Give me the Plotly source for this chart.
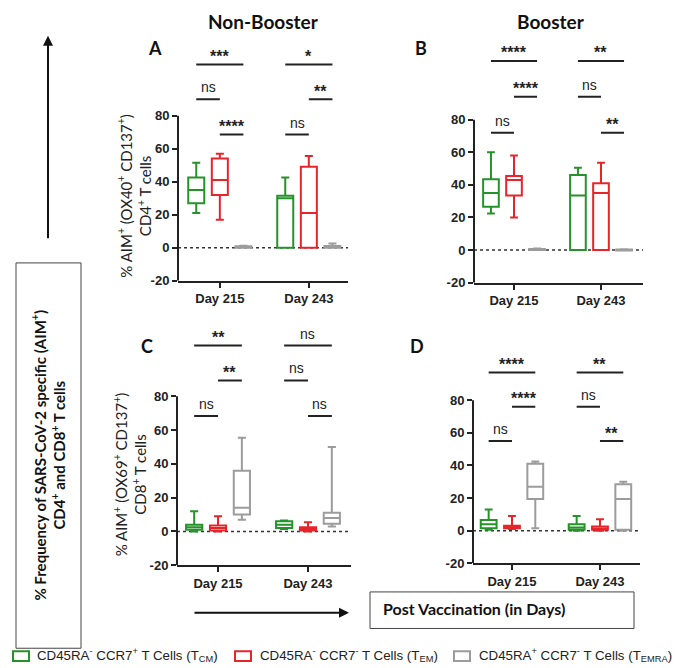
import plotly.graph_objects as go

W, H = 685, 668

DAYS = ["Day 215", "Day 243"]
SERIES = [
    "CD45RA<sup>-</sup> CCR7<sup>+</sup> T Cells (T<sub>CM</sub>)",
    "CD45RA<sup>-</sup> CCR7<sup>-</sup> T Cells (T<sub>EM</sub>)",
    "CD45RA<sup>+</sup> CCR7<sup>-</sup> T Cells (T<sub>EMRA</sub>)",
]
COLORS = ["#25922a", "#e8242b", "#9c9c9c"]

# Box statistics: one row per series (TCM, TEM, TEMRA), columns = [Day 215, Day 243]
# Panel A (Non-Booster, CD4)
A_low = [[21, 0], [17, 0], [0, 0]]
A_q1 = [[27, 0], [32, 0], [0, 0]]
A_med = [[35, 30], [41, 21], [0.4, 0.5]]
A_q3 = [[42.5, 31.5], [54, 49], [0.9, 1.0]]
A_high = [[51.5, 42.5], [57, 55.5], [1.2, 2.5]]
# Panel B (Booster, CD4)
B_low = [[22.5, 0], [20, 0], [0, -0.3]]
B_q1 = [[26.5, 0], [33.5, 0], [0, -0.3]]
B_med = [[35, 33.5], [43, 35], [0.3, 0]]
B_q3 = [[43.5, 46], [45.5, 41], [0.7, 0.4]]
B_high = [[60, 50.5], [58, 53.5], [0.9, 0.5]]
# Panel C (Non-Booster, CD8)
C_low = [[0, 1.5], [0, 0], [7, 3]]
C_q1 = [[1, 2], [0.5, 0.5], [10, 4.5]]
C_med = [[2.5, 4], [2, 1.5], [14, 8]]
C_q3 = [[4, 6], [3.5, 2.5], [36, 11]]
C_high = [[12, 6.5], [9, 5.5], [55.5, 50]]
# Panel D (Booster, CD8)
D_low = [[0.5, 0], [1, 0], [1.5, 0]]
D_q1 = [[1.5, 0.5], [1.5, 0.5], [19.5, 0.5]]
D_med = [[4, 2], [2, 1], [27, 19.5]]
D_q3 = [[6.5, 4], [3, 2.5], [41, 28.5]]
D_high = [[13, 9], [9, 7], [42.5, 30]]

# Significance brackets: (day index, from series, to series, y level, label)
SIG_A = [(0, 1, 2, 68.6, "****"), (1, 0, 1, 68.6, "ns"), (0, 0, 1, 90, "ns"),
         (1, 1, 2, 90, "**"), (0, 0, 2, 111, "***"), (1, 0, 2, 111, "*")]
SIG_B = [(0, 0, 1, 72, "ns"), (1, 1, 2, 72, "**"), (0, 1, 2, 94, "****"),
         (1, 0, 1, 94, "ns"), (0, 0, 2, 116, "****"), (1, 0, 2, 116, "**")]
SIG_C = [(0, 0, 1, 68.3, "ns"), (1, 1, 2, 68.3, "ns"), (0, 1, 2, 89.4, "**"),
         (1, 0, 1, 89.4, "ns"), (0, 0, 2, 110, "**"), (1, 0, 2, 110, "ns")]
SIG_D = [(0, 0, 1, 55, "ns"), (1, 1, 2, 55, "**"), (0, 1, 2, 76, "****"),
         (1, 0, 1, 76, "ns"), (0, 0, 2, 97, "****"), (1, 0, 2, 97, "**")]

Y_TICKS = [-20, 0, 20, 40, 60, 80]
Y_TICKTEXT = ["-20", "0", "20", "40", "60", "80"]

PANELS = [
    dict(stats=(A_low, A_q1, A_med, A_q3, A_high), sig=SIG_A,
         px=(170, 340), py=(276, 42.2), xr=[-0.47, 1.44]),
    dict(stats=(B_low, B_q1, B_med, B_q3, B_high), sig=SIG_B,
         px=(466, 635), py=(278, 47), xr=[-0.46, 1.483]),
    dict(stats=(C_low, C_q1, C_med, C_q3, C_high), sig=SIG_C,
         px=(169, 343), py=(564, 324.6), xr=[-0.456, 1.478]),
    dict(stats=(D_low, D_q1, D_med, D_q3, D_high), sig=SIG_D,
         px=(465, 632), py=(562, 331), xr=[-0.443, 1.455]),
]

SLOT = 0.265       # spacing between the three boxes of a day group
BOX_W = 0.18       # box width in x units
OFFSETS = [-SLOT, 0, SLOT]
DAY_POS = list(range(len(DAYS)))

fig = go.Figure()
shapes = []
annotations = []
layout_axes = {}
TICKFONT = dict(family="Arial, Liberation Sans", size=13, color="#222", weight="bold")

for pi, p in enumerate(PANELS):
    n = "" if pi == 0 else str(pi + 1)
    xa, ya = "x" + n, "y" + n
    low, q1, med, q3, high = p["stats"]
    for si in range(3):
        fig.add_trace(go.Box(
            x=[d + OFFSETS[si] for d in DAY_POS], q1=q1[si], median=med[si], q3=q3[si],
            lowerfence=low[si], upperfence=high[si], width=BOX_W,
            name=SERIES[si], showlegend=False,
            boxpoints=False, whiskerwidth=0.5,
            line=dict(color=COLORS[si], width=2),
            fillcolor="rgba(0,0,0,0)", hoverinfo="skip",
            xaxis=xa, yaxis=ya,
        ))
    x0, x1 = p["px"]
    yb, yt = p["py"]
    layout_axes["xaxis" + n] = dict(
        domain=[x0 / W, x1 / W], anchor=ya, range=p["xr"],
        tickvals=DAY_POS, ticktext=DAYS,
        showline=True, linecolor="#222", linewidth=2, ticks="outside",
        ticklen=5, tickwidth=2, tickcolor="#222", showgrid=False,
        zeroline=False, fixedrange=True, tickfont=TICKFONT,
    )
    layout_axes["yaxis" + n] = dict(
        domain=[1 - yb / H, 1 - yt / H], anchor=xa, range=[-20, 120],
        tickvals=Y_TICKS, ticktext=Y_TICKTEXT, showline=False,
        ticks="outside", ticklen=5, tickwidth=2, tickcolor="#222",
        showgrid=False, zeroline=False, fixedrange=True, tickfont=TICKFONT,
    )
    shapes.append(dict(type="line", xref=xa + " domain", yref=ya, x0=0, x1=0,
                       y0=-20, y1=80, line=dict(color="#222", width=2)))
    shapes.append(dict(type="line", xref=xa + " domain", yref=ya, x0=0, x1=1,
                       y0=0, y1=0, layer="below",
                       line=dict(color="#333", width=1.5, dash="dot")))
    for (d, a, b, yv, lab) in p["sig"]:
        xs, xe = d + OFFSETS[a], d + OFFSETS[b]
        shapes.append(dict(type="line", xref=xa, yref=ya, x0=xs, x1=xe,
                           y0=yv, y1=yv, line=dict(color="#222", width=2)))
        is_star = "*" in lab
        annotations.append(dict(
            xref=xa, yref=ya, x=(xs + xe) / 2, y=yv, text=lab, showarrow=False,
            xanchor="center", yanchor="middle", yshift=8 if is_star else 12,
            font=dict(family="Arial, Liberation Sans", size=16 if is_star else 14,
                      color="#222", weight="bold" if is_star else "normal"),
        ))


def P(xp, yp):
    return xp / W, 1 - yp / H


for txt, xp in [("Non-Booster", 255), ("Booster", 543)]:
    x, y = P(xp, 14)
    annotations.append(dict(xref="paper", yref="paper", x=x, y=y, text="<b>%s</b>" % txt,
                            showarrow=False, xanchor="center", yanchor="middle",
                            font=dict(family="Lato, Open Sans", size=19, color="#111")))
for txt, xp, yp in [("A", 147, 40), ("B", 413, 40), ("C", 139, 342), ("D", 409, 342)]:
    x, y = P(xp, yp)
    annotations.append(dict(xref="paper", yref="paper", x=x, y=y, text="<b>%s</b>" % txt,
                            showarrow=False, xanchor="center", yanchor="middle",
                            font=dict(family="Lato, Open Sans", size=18, color="#111")))
for txt, xp, yp in [
    ("% AIM<sup>+</sup> (OX40<sup>+</sup> CD137<sup>+</sup>)<br>CD4<sup>+</sup> T cells", 127, 190),
    ("% AIM<sup>+</sup> (OX69<sup>+</sup> CD137<sup>+</sup>)<br>CD8<sup>+</sup> T cells", 122, 472),
]:
    x, y = P(xp, yp)
    annotations.append(dict(xref="paper", yref="paper", x=x, y=y, text=txt, textangle=-90,
                            showarrow=False, xanchor="center", yanchor="middle",
                            font=dict(family="Lato, Open Sans", size=15, color="#222")))
x, y = P(41, 453)
annotations.append(dict(xref="paper", yref="paper", x=x, y=y, textangle=-90,
                        text="<b>% Frequency of SARS-CoV-2 specific (AIM<sup>+</sup>)<br>CD4<sup>+</sup> and CD8<sup>+</sup> T cells</b>",
                        showarrow=False, xanchor="center", yanchor="middle",
                        font=dict(family="Lato, Open Sans", size=15, color="#111")))
shapes.append(dict(type="rect", xref="paper", yref="paper",
                   x0=8 / W, x1=73 / W, y0=1 - 648 / H, y1=1 - 258 / H,
                   line=dict(color="#444", width=1)))
x, y = P(40, 28)
annotations.append(dict(xref="paper", yref="paper", x=x, y=y, text="", showarrow=True,
                        ax=0, ay=204, arrowhead=2, arrowsize=1, arrowwidth=2,
                        arrowcolor="#111"))
x, y = P(341, 612)
annotations.append(dict(xref="paper", yref="paper", x=x, y=y, text="", showarrow=True,
                        ax=-156, ay=0, arrowhead=2, arrowsize=1, arrowwidth=2,
                        arrowcolor="#111"))
shapes.append(dict(type="rect", xref="paper", yref="paper",
                   x0=362 / W, x1=626 / W, y0=1 - 628 / H, y1=1 - 591 / H,
                   line=dict(color="#444", width=1)))
x, y = P(373, 608)
annotations.append(dict(xref="paper", yref="paper", x=x, y=y,
                        text="<b>Post Vaccination (in Days)</b>", showarrow=False,
                        xanchor="left", yanchor="middle",
                        font=dict(family="Lato, Open Sans", size=16, color="#111")))

# Custom legend (square swatch + label)
LEGEND_X = [(5, 21, 27), (227, 243, 250), (446, 462, 469)]
for si, (s0, s1, tx) in enumerate(LEGEND_X):
    shapes.append(dict(type="rect", xref="paper", yref="paper",
                       x0=s0 / W, x1=s1 / W, y0=1 - 661 / H, y1=1 - 651 / H,
                       line=dict(color=COLORS[si], width=2)))
    x, y = P(tx, 655)
    annotations.append(dict(xref="paper", yref="paper", x=x, y=y, text=SERIES[si],
                            showarrow=False, xanchor="left", yanchor="middle",
                            font=dict(family="Arial, Liberation Sans", size=13.3, color="#222")))

fig.update_layout(
    width=W, height=H, margin=dict(l=0, r=0, t=0, b=0),
    paper_bgcolor="white", plot_bgcolor="white",
    boxmode="overlay", showlegend=False,
    shapes=shapes, annotations=annotations,
    **layout_axes,
)

fig.write_html("out.html")
